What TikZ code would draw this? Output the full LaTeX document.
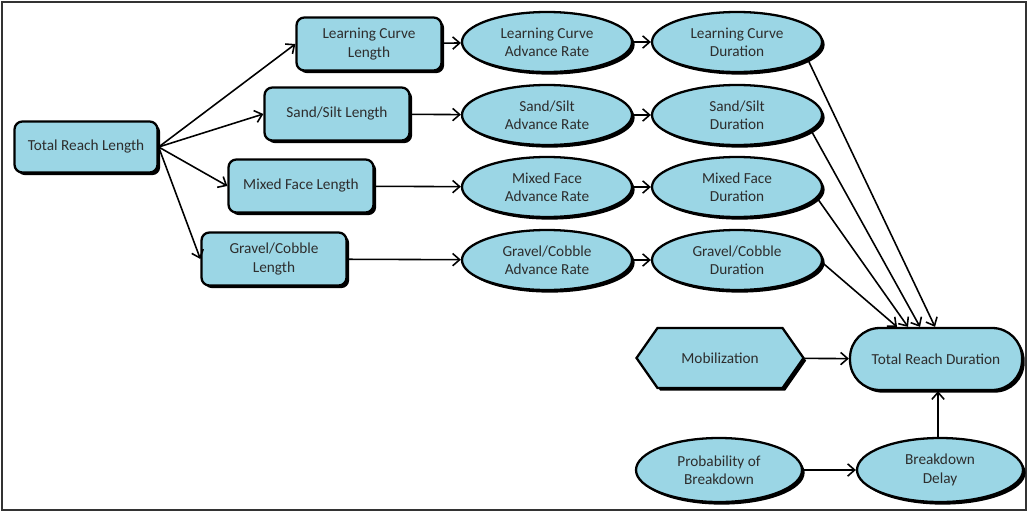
\documentclass[tikz,border=0pt]{standalone}
\usepackage{fontspec}
\setmainfont{Carlito}
\usetikzlibrary{shapes,arrows,arrows.meta,shadows,calc}
\definecolor{boxblue}{RGB}{155,214,229}
\definecolor{textgray}{RGB}{45,45,45}

\begin{document}
\begin{tikzpicture}[
    every node/.style={font=\fontsize{8.7}{10.4}\selectfont, text=textgray, align=center},
    base/.style={draw=black, line width=1.3pt, fill=boxblue,
        drop shadow={shadow xshift=1.5pt, shadow yshift=-1.5pt, fill=black, opacity=1}},
    lenbox/.style={base, rectangle, rounded corners=4.5pt, minimum width=2.9cm, minimum height=1.06cm},
    rate/.style={base, ellipse, inner sep=0pt, minimum width=3.4cm, minimum height=1.2cm},
    link/.style={-{Straight Barb[length=4pt,width=7pt]}, line width=0.9pt}]
    % Frame
    \useasboundingbox (0,0) rectangle (20.56,10.24);
    \fill[white] (0,0) rectangle (20.56,10.24);
    \draw[gray!40!black, line width=1.4pt] (0.04,0.04) rectangle (20.52,10.2);

    % Lengths
    \node[lenbox, minimum width=2.86cm, minimum height=1.02cm] (trl) at (1.72,7.30) {Total Reach Length};
    \node[lenbox] (lcl) at (7.38,9.36) {Learning Curve\\Length};
    \node[lenbox] (ssl) at (6.74,7.96) {Sand/Silt Length};
    \node[lenbox] (mfl) at (6.02,6.52) {Mixed Face Length};
    \node[lenbox] (gcl) at (5.48,5.06) {Gravel/Cobble\\Length};

    % Advance rates
    \node[rate] (lcr) at (10.94,9.40) {Learning Curve\\Advance Rate};
    \node[rate] (ssr) at (10.94,7.94) {Sand/Silt\\Advance Rate};
    \node[rate] (mfr) at (10.94,6.50) {Mixed Face\\Advance Rate};
    \node[rate] (gcr) at (10.94,5.04) {Gravel/Cobble\\Advance Rate};

    % Durations
    \node[rate] (lcd) at (14.74,9.40) {Learning Curve\\Duration};
    \node[rate] (ssd) at (14.74,7.94) {Sand/Silt\\Duration};
    \node[rate] (mfd) at (14.74,6.50) {Mixed Face\\Duration};
    \node[rate] (gcd) at (14.74,5.04) {Gravel/Cobble\\Duration};

    % Bottom right
    \node[base, signal, signal to=west and east, signal pointer angle=110,
        minimum width=3.34cm, minimum height=1.2cm] (mob) at (14.40,3.08) {Mobilization};
    \node[base, rectangle, rounded corners=17pt, minimum width=3.44cm, minimum height=1.24cm] (trd) at (18.72,3.06) {Total Reach Duration};
    \node[rate, minimum width=3.32cm, minimum height=1.28cm] (pob) at (14.38,0.84) {Probability of\\Breakdown};
    \node[rate, minimum width=3.32cm, minimum height=1.28cm] (bdd) at (18.80,0.84) {Breakdown\\Delay};

    % Connectors
    \foreach \n in {lcl,ssl,mfl,gcl}
        \draw[link] (trl.east) -- (\n.west);
    \draw[link] (lcl) -- (lcr);
    \draw[link] (ssl) -- (ssr);
    \draw[link] (mfl) -- (mfr);
    \draw[link] (gcl) -- (gcr);
    \draw[link] (lcr) -- (lcd);
    \draw[link] (ssr) -- (ssd);
    \draw[link] (mfr) -- (mfd);
    \draw[link] (gcr) -- (gcd);
    \draw[link] (lcd.-14) -- ($(trd.north)+(-0.02,0)$);
    \draw[link] (ssd.-12) -- ($(trd.north)+(-0.32,0)$);
    \draw[link] (mfd.-8) -- ($(trd.north)+(-0.56,0)$);
    \draw[link] (gcd.-2) -- ($(trd.north)+(-0.78,0)$);
    \draw[link] (mob) -- (trd);
    \draw[link] (pob) -- (bdd);
    \draw[link] (bdd.north -| 18.76,0) -- (trd.south -| 18.76,0);
\end{tikzpicture}
\end{document}
